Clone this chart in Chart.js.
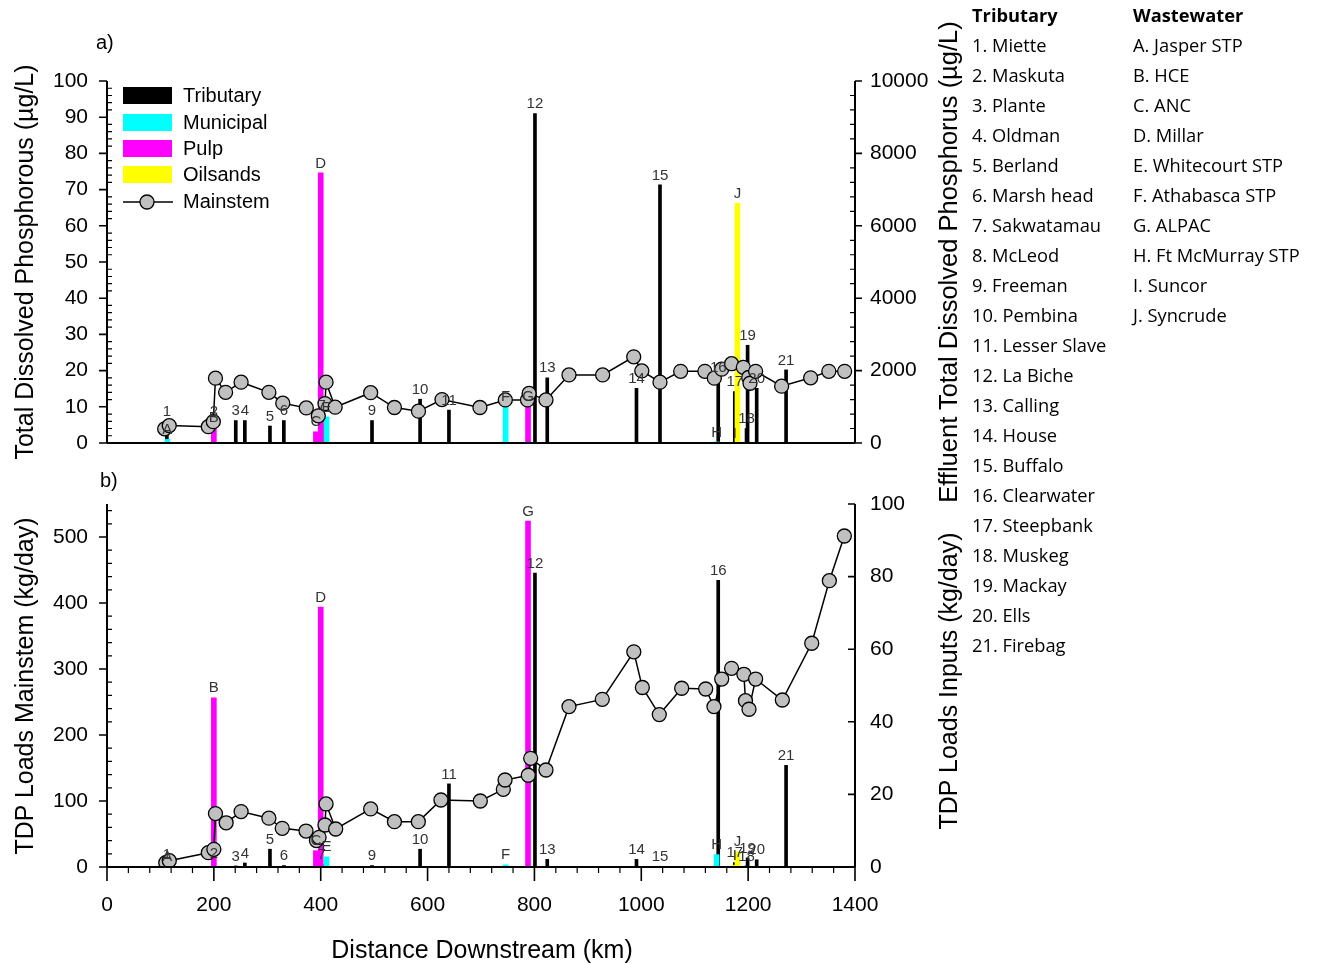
<!DOCTYPE html>
<html><head><meta charset="utf-8">
<script src="https://cdn.jsdelivr.net/npm/chart.js@4.4.0/dist/chart.umd.min.js"></script>
<style>
html,body{margin:0;padding:0;background:#fff;}
body{width:1319px;height:965px;position:relative;overflow:hidden;font-family:Arial,"Liberation Sans",sans-serif;color:#000;}
canvas{position:absolute;left:0;top:0;}
.t{position:absolute;white-space:nowrap;}
.rot{position:absolute;white-space:nowrap;transform:translate(-50%,-50%) rotate(-90deg);font-size:25px;}
.ctr{position:absolute;white-space:nowrap;transform:translate(-50%,-50%);}
.lg{position:absolute;left:123px;width:49px;height:17px;}
.lgt{position:absolute;left:183px;font-size:20px;transform:translateY(-50%);}
.list{position:absolute;top:0;font-family:"Open Sans",sans-serif;font-size:18.3px;line-height:30px;}
.list b{font-weight:700;}
</style></head><body>
<canvas id="c1" width="1319" height="965" style="width:1319px;height:965px"></canvas>
<canvas id="c2" width="1319" height="965" style="width:1319px;height:965px"></canvas>

<div class="t" style="left:96px;top:31px;font-size:20px;">a)</div>
<div class="t" style="left:100px;top:469px;font-size:20px;">b)</div>
<div class="rot" style="left:24px;top:262px;">Total Dissolved Phosphorous (µg/L)</div>
<div class="rot" style="left:24px;top:686px;">TDP Loads Mainstem (kg/day)</div>
<div class="rot" style="left:948px;top:262px;font-size:25.5px;">Effluent Total Dissolved Phosphorus (µg/L)</div>
<div class="rot" style="left:948px;top:681px;">TDP Loads Inputs (kg/day)</div>
<div class="ctr" style="left:482px;top:949px;font-size:25px;">Distance Downstream (km)</div>

<div class="lg" style="top:87px;background:#000;"></div>
<div class="lgt" style="top:95px;">Tributary</div>
<div class="lg" style="top:114px;background:#00ffff;"></div>
<div class="lgt" style="top:122px;">Municipal</div>
<div class="lg" style="top:140px;background:#ff00ff;"></div>
<div class="lgt" style="top:148px;">Pulp</div>
<div class="lg" style="top:166px;background:#ffff00;"></div>
<div class="lgt" style="top:174px;">Oilsands</div>
<svg style="position:absolute;left:122px;top:192px" width="52" height="20"><line x1="1" y1="10" x2="51" y2="10" stroke="#000" stroke-width="1.5"/><circle cx="25" cy="10" r="7" fill="#c0c0c0" stroke="#000" stroke-width="1.3"/></svg>
<div class="lgt" style="top:201px;">Mainstem</div>

<div class="list" id="trib" style="left:972px;"></div>
<div class="list" id="waste" style="left:1133px;"></div>

<script>
// ---------- DATA ----------
const tribNames = ['Miette','Maskuta','Plante','Oldman','Berland','Marsh head','Sakwatamau','McLeod','Freeman','Pembina','Lesser Slave','La Biche','Calling','House','Buffalo','Clearwater','Steepbank','Muskeg','Mackay','Ells','Firebag'];
const wasteNames = ['Jasper STP','HCE','ANC','Millar','Whitecourt STP','Athabasca STP','ALPAC','Ft McMurray STP','Suncor','Syncrude'];

// tributary inputs (numbered)
const tribNo   = ['1','2','3','4','5','6','7','9','10','11','12','13','14','15','16','17','18','19','20','21'];
const tribKm   = [112,200,241,258,305,331,402,496,586,640,801,824,991,1035,1144,1175,1197,1199,1216,1271];
const tribConc = [6,6,6.2,6.2,4.7,6.2,7.5,6.2,12.1,9.1,91,18,15.1,71.3,18,14.2,4,27,15.1,20.2];     // µg/L
const tribLoad = [0.8,1,0.3,1.1,4.9,0.4,0.6,0.4,4.9,22.9,81,2.1,2.1,0.2,79,1.2,0.3,2.5,2,28];        // kg/day

// wastewater inputs (lettered)
const effId   = ['A','B','C','D','E','F','G','H','I','J'];
const effType = ['Municipal','Pulp','Pulp','Pulp','Municipal','Municipal','Pulp','Municipal','Oilsands','Oilsands'];
const effKm   = [113,200,391,400,411,746,788,1141,1175,1180];
const effConc = [100,430,310,7460,720,1000,1000,30,0,6620];        // µg/L
const effLoad = [0.2,46.6,4.5,71.6,2.8,0.6,95.3,3.4,0.5,4.2];       // kg/day

// mainstem
const mainKmA  = [108,116.5,189.6,199,203,222,251,303,329,373,395.5,408,410,427,493.5,538,583,627,698,745.5,787,790,821.6,864.7,927.7,985.8,1001,1035,1073.7,1119,1136.7,1150.5,1169,1191,1201,1203.5,1214,1262.7,1317,1351,1380.6];
const mainConc = [3.9,4.8,4.5,5.9,17.9,14,16.8,14,11,9.7,7.5,10.9,16.8,9.9,13.9,9.8,8.8,12,9.8,11.9,11.9,13.7,11.9,18.8,18.8,23.8,19.9,16.8,19.8,19.8,17.9,20.4,21.9,20.9,18.1,16.5,19.8,15.7,18,19.8,19.8];
const mainKmB  = [110,116.6,189.6,200,203,223,251,303,328,372.5,392,397,408,410,428,493.5,538,582.7,625,698.7,741.8,745,788.5,793,821.6,864.7,927,986,1002,1033.7,1075.6,1120.5,1136,1150.5,1169,1192,1195,1201.6,1214,1264,1319,1352,1380];
const mainLoad = [6.5,9.6,21.7,26.8,81,67,84,74,58.6,54.5,40,45,63.6,95.5,57.6,88,68.7,68.7,101.5,100,117.7,131.8,139,164.7,147,243,254,326,272,231,270.8,269.7,243,284.8,301,292,252,239,284.8,253,339,433.8,501.5];

// ---------- side lists ----------
document.getElementById('trib').innerHTML = '<b>Tributary</b><br>' + tribNames.map((n,i)=>(i+1)+'. '+n).join('<br>');
document.getElementById('waste').innerHTML = '<b>Wastewater</b><br>' + wasteNames.map((n,i)=>effId[i]+'. '+n).join('<br>');

// ---------- helpers ----------
Chart.defaults.color = '#000';
Chart.defaults.font.family = 'Arial, "Liberation Sans", sans-serif';
const typeColor = {Municipal:'#00ffff', Pulp:'#ff00ff', Oilsands:'#ffff00'};

function effDataset(type, vals, axis){
  const idx = effType.map((t,i)=>t===type?i:-1).filter(i=>i>=0);
  return {type:'bar', label:type, data: idx.map(i=>({x:effKm[i], y:vals[i]})), tags: idx.map(i=>effId[i]),
          backgroundColor: typeColor[type], barThickness:5, grouped:false, yAxisID:axis, order:2};
}
function tribDataset(vals, axis){
  return {type:'bar', label:'Tributary', data: tribKm.map((k,i)=>({x:k, y:vals[i]})), tags: tribNo,
          backgroundColor:'#000', barThickness:3, grouped:false, yAxisID:axis, order:3};
}
function mainDataset(km, vals){
  return {type:'line', label:'Mainstem', data: km.map((k,i)=>({x:k, y:vals[i]})), borderColor:'#000', borderWidth:1.5,
          pointRadius:7, pointBackgroundColor:'#c0c0c0', pointBorderColor:'#000', pointBorderWidth:1.3,
          tension:0, yAxisID:'y', order:0};
}

const tagPlugin = {
  id:'tags',
  afterDatasetsDraw(chart){
    const ctx = chart.ctx;
    ctx.save();
    ctx.font = '15px Arial, "Liberation Sans", sans-serif';
    ctx.fillStyle = '#333';
    ctx.textAlign = 'center'; ctx.textBaseline = 'bottom';
    chart.data.datasets.forEach((ds, di)=>{
      if(!ds.tags) return;
      const meta = chart.getDatasetMeta(di);
      meta.data.forEach((el,i)=>{ if(ds.tags[i]) ctx.fillText(ds.tags[i], el.x, el.y - 2); });
    });
    ctx.restore();
  }
};

const axesPlugin = {
  id:'axesTicks',
  afterDatasetsDraw(chart, args, opts){
    const ctx = chart.ctx, a = chart.chartArea;
    ctx.save(); ctx.strokeStyle = '#000';
    (opts.axes||[]).forEach(ax=>{
      const s = chart.scales[ax.id];
      const hor = ax.side==='bottom';
      const base = ax.side==='left'?a.left:(ax.side==='right'?a.right:a.bottom);
      const sign = ax.side==='left'?-1:1;
      ctx.lineWidth = 2;
      ctx.beginPath();
      if(hor){ctx.moveTo(a.left, base); ctx.lineTo(a.right, base);} else {ctx.moveTo(base, a.top); ctx.lineTo(base, a.bottom);}
      ctx.stroke();
      const draw = (step, out, inn, lw, skipStep) => {
        if(!step || (!out && !inn)) return;
        ctx.lineWidth = lw; ctx.beginPath();
        const n = Math.floor((s.max - s.min)/step + 1e-6);
        for(let k=0;k<=n;k++){
          const v = s.min + k*step;
          if(skipStep && Math.abs(v/skipStep - Math.round(v/skipStep))<1e-6) continue;
          const p = s.getPixelForValue(v);
          if(hor){ctx.moveTo(p, base - sign*inn); ctx.lineTo(p, base + sign*out);}
          else {ctx.moveTo(base - sign*inn, p); ctx.lineTo(base + sign*out, p);}
        }
        ctx.stroke();
      };
      draw(ax.minor, ax.minorOut||0, ax.minorIn||0, 1.2, ax.major);
      draw(ax.major, ax.majorOut||0, ax.majorIn||0, 1.6, 0);
    });
    ctx.restore();
  }
};

const numCb = v => String(v);
const tickFont = {size:21};

// ---------- panel a ----------
new Chart(document.getElementById('c1'), {
  data:{datasets:[
    mainDataset(mainKmA, mainConc),
    effDataset('Municipal', effConc, 'y2'),
    effDataset('Pulp', effConc, 'y2'),
    effDataset('Oilsands', effConc, 'y2'),
    tribDataset(tribConc, 'y')
  ]},
  options:{
    responsive:false, animation:false, events:[],
    layout:{padding:{left:0, top:81, right:364, bottom:522}},
    plugins:{legend:{display:false}, tooltip:{enabled:false},
      axesTicks:{axes:[
        {id:'x', side:'bottom'},
        {id:'y', side:'left', major:10, minor:2, majorOut:8, minorIn:5},
        {id:'y2', side:'right', major:2000, minor:400, majorOut:7, minorIn:5}
      ]}},
    scales:{
      x:{type:'linear', min:0, max:1400, offset:false, ticks:{display:false}, grid:{display:false, drawTicks:false}, border:{display:false}, afterFit:s=>{s.height=0;}},
      y:{type:'linear', position:'left', min:0, max:100, ticks:{stepSize:10, padding:19, font:tickFont, callback:numCb, autoSkip:false}, grid:{display:false, drawTicks:false}, border:{display:false}, afterFit:s=>{s.width=107;}},
      y2:{type:'linear', position:'right', min:0, max:10000, ticks:{stepSize:2000, padding:15, font:tickFont, callback:numCb, autoSkip:false}, grid:{display:false, drawTicks:false}, border:{display:false}, afterFit:s=>{s.width=100;}}
    }
  },
  plugins:[axesPlugin, tagPlugin]
});

// ---------- panel b ----------
new Chart(document.getElementById('c2'), {
  data:{datasets:[
    mainDataset(mainKmB, mainLoad),
    effDataset('Municipal', effLoad, 'y2'),
    effDataset('Pulp', effLoad, 'y2'),
    effDataset('Oilsands', effLoad, 'y2'),
    tribDataset(tribLoad, 'y2')
  ]},
  options:{
    responsive:false, animation:false, events:[],
    layout:{padding:{left:0, top:504, right:364, bottom:38}},
    plugins:{legend:{display:false}, tooltip:{enabled:false},
      axesTicks:{axes:[
        {id:'x', side:'bottom', major:200, minor:40, majorOut:14, minorOut:6},
        {id:'y', side:'left', major:100, minor:20, majorOut:8, minorIn:5},
        {id:'y2', side:'right', major:20, majorIn:7, majorOut:0}
      ]}},
    scales:{
      x:{type:'linear', min:0, max:1400, offset:false, ticks:{stepSize:200, padding:26, font:tickFont, callback:numCb, autoSkip:false, maxRotation:0}, grid:{display:false, drawTicks:false}, border:{display:false}, afterFit:s=>{s.height=60;}},
      y:{type:'linear', position:'left', min:0, max:550, ticks:{stepSize:100, includeBounds:false, padding:19, font:tickFont, callback:numCb, autoSkip:false}, grid:{display:false, drawTicks:false}, border:{display:false}, afterFit:s=>{s.width=107;}},
      y2:{type:'linear', position:'right', min:0, max:100, ticks:{stepSize:20, padding:15, font:tickFont, callback:numCb, autoSkip:false}, grid:{display:false, drawTicks:false}, border:{display:false}, afterFit:s=>{s.width=100;}}
    }
  },
  plugins:[axesPlugin, tagPlugin]
});
</script>
</body></html>
